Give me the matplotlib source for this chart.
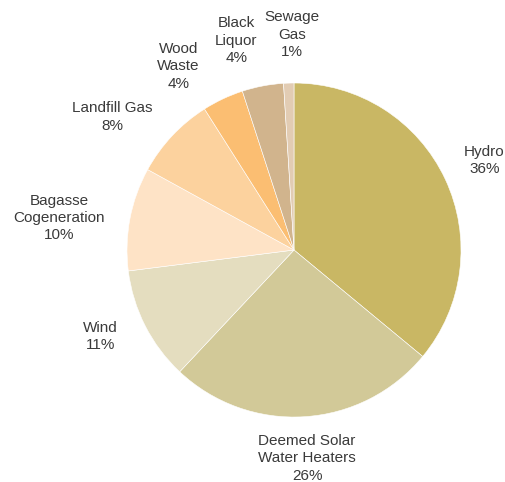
import numpy as np
import matplotlib
matplotlib.use("Agg")
import matplotlib.pyplot as plt

# Renewable sources share
labels = ["Hydro", "Deemed Solar\nWater Heaters", "Wind", "Bagasse\nCogeneration",
          "Landfill Gas", "Wood\nWaste", "Black\nLiquor", "Sewage\nGas"]
shares = [36, 26, 11, 10, 8, 4, 4, 1]
colors = ["#C9B764", "#D2C998", "#E4DDBF", "#FEE3C6", "#FCD29E", "#FBBE72",
          "#D1B48D", "#E2CCB3"]

# label layout: angle nudge (deg) and radius factor, to keep labels apart
label_nudge = [0, 0, -3, 3, 7, 7, 4.6, -1.3]
label_radius = [1.26, 1.25, 1.27, 1.42, 1.35, 1.30, 1.30, 1.29]

plt.rcParams['font.family'] = ['Liberation Sans', 'DejaVu Sans']

fig = plt.figure(figsize=(5.06, 4.82), dpi=100)
ax = fig.add_axes([0, 0, 1, 1])

wedges, _ = ax.pie(shares, colors=colors, startangle=90, counterclock=False,
                   radius=1.0, center=(0, 0),
                   wedgeprops=dict(linewidth=0.4, edgecolor="white"))

total = sum(shares)
start = 90.0
for i, (lab, val) in enumerate(zip(labels, shares)):
    span = 360.0 * val / total
    mid = start - span / 2 + label_nudge[i]
    start -= span
    r = label_radius[i]
    x = r * np.cos(np.radians(mid))
    y = r * np.sin(np.radians(mid))
    ax.text(x, y, f"{lab}\n{val}%", ha="center", va="center",
            fontsize=11, color="#3a3a3a", linespacing=1.3)

ax.set_xlim(-1.760, 1.269)
ax.set_ylim(-1.389, 1.497)
ax.set_aspect("equal")
ax.axis("off")

fig.savefig("out.png", dpi=100)
